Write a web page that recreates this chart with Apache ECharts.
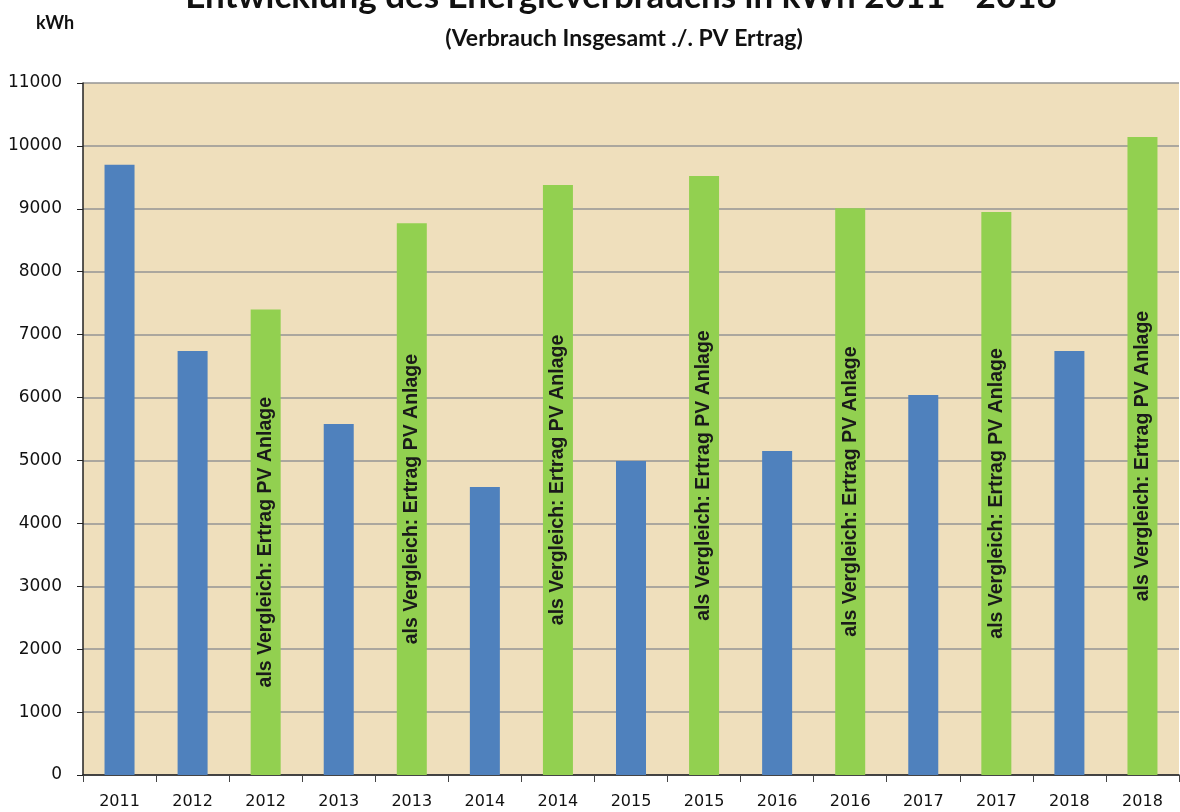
<!DOCTYPE html>
<html>
<head>
<meta charset="utf-8">
<script src="https://cdn.jsdelivr.net/npm/echarts@6/dist/echarts.min.js"></script>
<style>
html,body{margin:0;padding:0;background:#fff;}
#chart{width:1180px;height:812px;}
</style>
</head>
<body>
<div id="chart"></div>
<script>
var categories = ['2011','2012','2012','2013','2013','2014','2014','2015','2015','2016','2016','2017','2017','2018','2018'];
var verbrauch = [9700, 6740, null, 5580, null, 4580, null, 4990, null, 5150, null, 6040, null, 6740, null];
var pvErtrag  = [null, null, 7400, null, 8770, null, 9380, null, 9520, null, 9010, null, 8950, null, 10140];
var yTicks = {min: 0, max: 11000, interval: 1000};
var pvLabel = 'als Vergleich: Ertrag PV Anlage';

var chart = echarts.init(document.getElementById('chart'), null, {renderer: 'canvas'});
chart.setOption({
  animation: false,
  backgroundColor: '#ffffff',
  title: [
    {text: 'Entwicklung des Energieverbrauchs in kWh 2011 - 2018', left: 616, top: -26, textAlign: 'center',
     textStyle: {fontFamily: 'Lato', fontWeight: 'bold', fontSize: 35, color: '#111'}},
    {text: '(Verbrauch Insgesamt ./. PV Ertrag)', left: 619, top: 22, textAlign: 'center',
     textStyle: {fontFamily: 'Lato', fontWeight: 'bold', fontSize: 23, color: '#111'}},
    {text: 'kWh', left: 31, top: 9,
     textStyle: {fontFamily: 'Lato', fontWeight: 'bold', fontSize: 18, color: '#111'}}
  ],
  grid: {left: 83, right: 1, top: 83, bottom: 37, show: true, backgroundColor: '#efdfbc', borderWidth: 0},
  xAxis: {
    type: 'category',
    data: categories,
    axisLine: {lineStyle: {color: '#222', width: 1.5}},
    axisTick: {show: true, length: 7, lineStyle: {color: '#444', width: 1}},
    axisLabel: {fontFamily: 'DejaVu Sans', fontSize: 16, color: '#111', margin: 19, interval: 0}
  },
  yAxis: {
    type: 'value',
    min: yTicks.min, max: yTicks.max, interval: yTicks.interval,
    axisLine: {show: true, lineStyle: {color: '#222', width: 1.5}},
    axisTick: {show: true, length: 6, lineStyle: {color: '#222'}},
    axisLabel: {fontFamily: 'DejaVu Sans', fontSize: 17, color: '#111', margin: 21,
      formatter: function (v) { return String(v); }},
    splitLine: {lineStyle: {color: '#949494', width: 1.5}}
  },
  series: [
    {name: 'Verbrauch', type: 'bar', data: verbrauch, barWidth: 30, barGap: '-100%',
     itemStyle: {color: '#4f81bd'}},
    {name: 'PV Ertrag', type: 'bar', data: pvErtrag, barWidth: 30, barGap: '-100%',
     itemStyle: {color: '#92d050'},
     label: {show: true, position: 'inside', rotate: 90, formatter: pvLabel,
       fontFamily: 'Liberation Sans', fontWeight: 'bold', fontSize: 19.5, color: '#1a1a1a'}}
  ]
});
</script>
</body>
</html>
